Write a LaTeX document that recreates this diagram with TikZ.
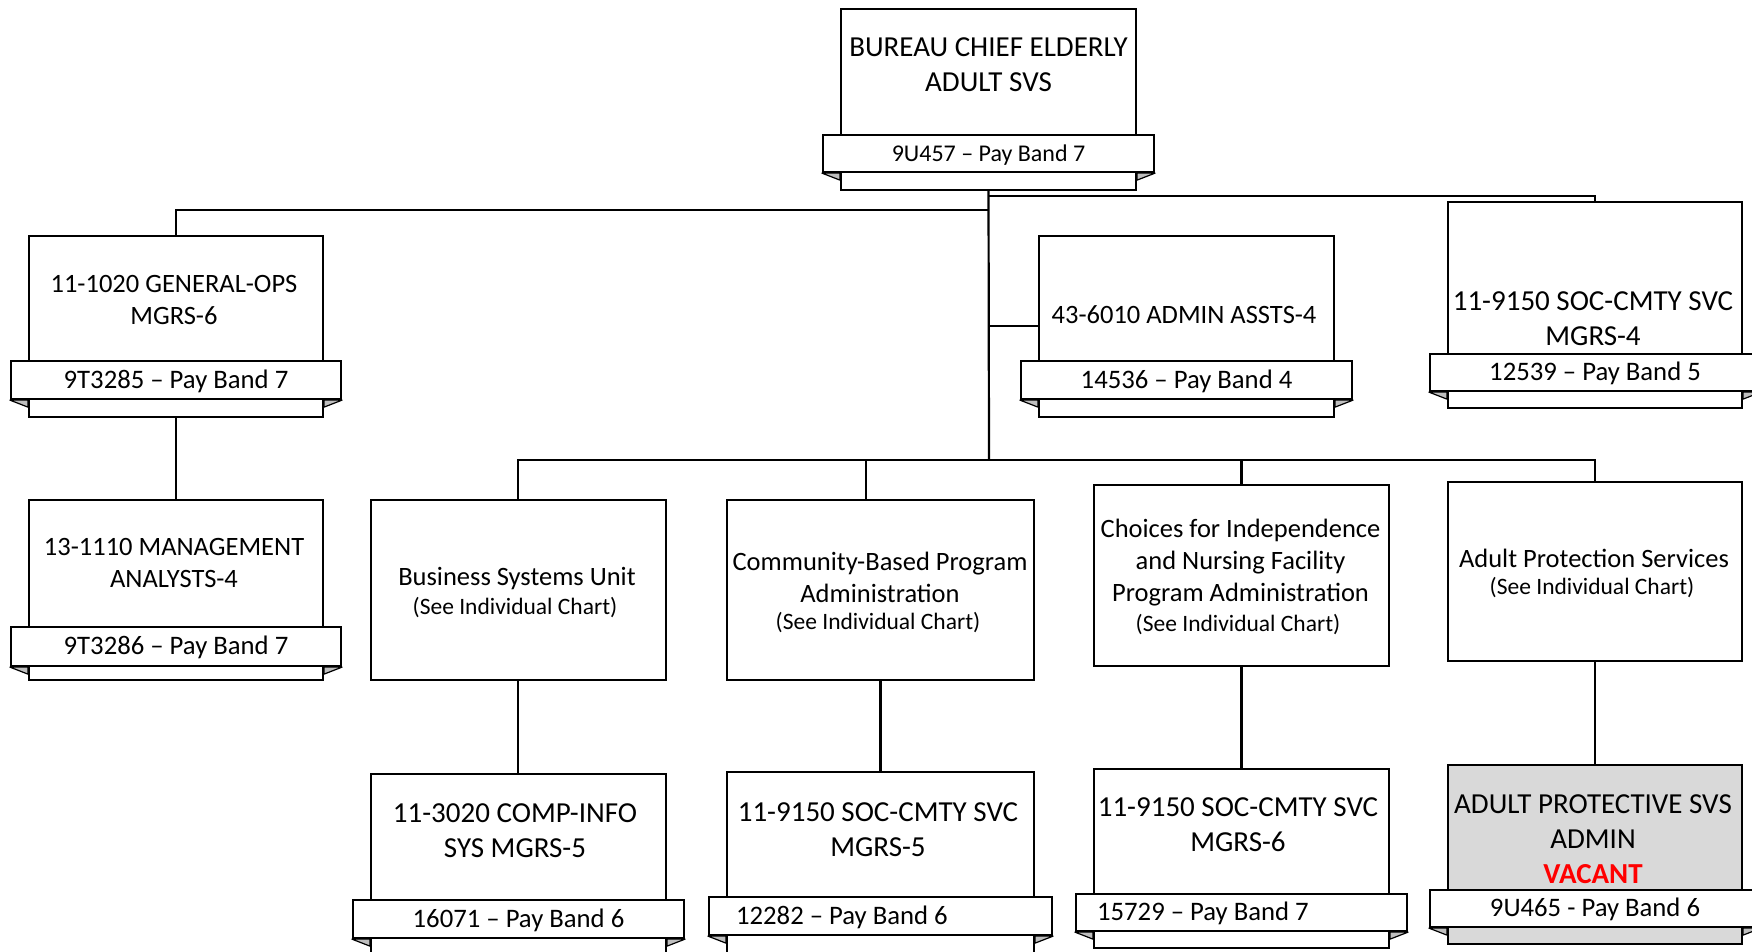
\documentclass[tikz,border=0pt]{standalone}
\usepackage{fontspec}
\setmainfont{Carlito}
\usetikzlibrary{fit}
\definecolor{apsgray}{HTML}{D9D9D9}
\definecolor{foldgray}{HTML}{BFBFBF}
\definecolor{vacred}{HTML}{FF0000}
\newcommand{\fzA}{\fontsize{29}{35}\selectfont}
\newcommand{\fzB}{\fontsize{26.5}{32}\selectfont}
\newcommand{\fzS}{\fontsize{23.5}{29}\selectfont}
\newcommand{\fzR}{\fontsize{24}{29}\selectfont}
\newcommand{\fzQ}{\fontsize{26.7}{32}\selectfont}
% #1 name, #2 x1, #3 y1, #4 x2, #5 y2, #6 banner top, #7 banner bottom, #8 fill
\newcommand{\orgunit}[8]{%
  \node[unitbox, fill=#8, fit={(#2,#3) (#4,#5)}] (#1) {};
  \node[ribbon, fit={(#2-18,#6) (#4+18,#7)}] (#1b) {};
  \filldraw[fold] (#1b.south west) -- (#1.west |- #1b.south) -- ++(0,7) -- cycle;
  \filldraw[fold] (#1b.south east) -- (#1.east |- #1b.south) -- ++(0,7) -- cycle;
}
\begin{document}
\begin{tikzpicture}[x=1pt,y=-1pt,
  unitbox/.style={draw=black, line width=2.2pt, inner sep=0pt},
  ribbon/.style={draw=black, line width=2.2pt, fill=white, inner sep=0pt},
  fold/.style={draw=black, line width=1.2pt, fill=foldgray, line join=round},
  conn/.style={draw=black, line width=2.2pt},
  txt/.style={align=center, inner sep=0pt, text=black},
  bantxt/.style={inner sep=0pt, text=black, font=\fzQ, text height=22pt, text depth=6pt},
  bantxtsmall/.style={inner sep=0pt, text=black, font=\fzR, text height=20pt, text depth=5pt},
]
\useasboundingbox (0,0) rectangle (1752,951);
\clip (0,0) rectangle (1752,951);
\fill[white] (0,0) rectangle (1752,951);

% junction coordinates on the trunk
\coordinate (hubB) at (989,196);
\coordinate (hubA) at (989,210);
\coordinate (hubC) at (989,326);
\coordinate (bus) at (989,460);

% connectors
\draw[conn] (hubA) -| (176,236);
\draw[conn] (hubB) -| (1595,202);
\draw[conn] (hubC) -- (1039,326);
\draw[conn] (988.5,190) -- (bus);
\draw[conn] (518,500) |- (bus) -| (1595,482);
\draw[conn] (866,500) -- (866,460);
\draw[conn] (1241.5,485) -- (1241.5,460);
\draw[conn] (176,417) -- (176,500);
\draw[conn] (518,680) -- (518,774);
\draw[conn] (880.5,680) -- (880.5,772);
\draw[conn] (1241.5,666) -- (1241.5,769);
\draw[conn] (1595,661) -- (1595,765);

% positions with pay-band ribbons
\orgunit{chief}{841}{9}{1136}{190}{135}{172}{white}
\orgunit{gen}{29}{236}{323}{417}{361}{399}{white}
\orgunit{mgmt}{29}{500}{323}{680}{627}{666}{white}
\orgunit{adm}{1039}{236}{1334}{417}{361}{399}{white}
\orgunit{socA}{1448}{202}{1742}{408}{354}{391}{white}
\orgunit{cis}{371}{774}{666}{975}{900}{938}{white}
\orgunit{socB}{727}{772}{1034}{975}{897}{935}{white}
\orgunit{socC}{1094}{769}{1389}{948}{894}{931}{white}
\orgunit{apsa}{1448}{765}{1742}{944}{890}{927}{apsgray}

% units
\node[unitbox, fill=white, fit={(371,500) (666,680)}] (bsu) {};
\node[unitbox, fill=white, fit={(727,500) (1034,680)}] (cbp) {};
\node[unitbox, fill=white, fit={(1094,485) (1389,666)}] (chc) {};
\node[unitbox, fill=white, fit={(1448,482) (1742,661)}] (aps) {};

% texts
\node[txt, font=\fzA] (chief-t) at (988.5,65) {BUREAU CHIEF ELDERLY\\ADULT SVS};
\node[bantxtsmall] at (chiefb.center) {9U457 – Pay Band 7};

\node[txt, font=\fzB] (gen-t) at (174,300) {11-1020 GENERAL-OPS\\MGRS-6};
\node[bantxt] at (genb.center) {9T3285 – Pay Band 7};

\node[txt, font=\fzB] (mgmt-t) at (174,563) {13-1110 MANAGEMENT\\ANALYSTS-4};
\node[bantxt] at (mgmtb.center) {9T3286 – Pay Band 7};

\node[txt, font=\fzB] (adm-t) at (1184,315) {43-6010 ADMIN ASSTS-4};
\node[bantxt] at (admb.center) {14536 – Pay Band 4};

\node[txt, font=\fzA] (socA-t) at (1593,319) {11-9150 SOC-CMTY SVC\\MGRS-4};
\node[bantxt] at (socAb.center) {12539 – Pay Band 5};

\node[txt, font=\fzB] (bsu-t) at (517,579) {Business Systems Unit};
\node[txt, font=\fzS] (bsu-s) at (515,608) {(See Individual Chart)};

\node[txt, font=\fzB] (cbp-t) at (880,577) {Community-Based Program\\Administration};
\node[txt, font=\fzS] (cbp-s) at (878,623) {(See Individual Chart)};

\node[txt, font=\fzB] (chc-t) at (1240.5,563) {Choices for Independence\\and Nursing Facility\\Program Administration};
\node[txt, font=\fzS] (chc-s) at (1238,625) {(See Individual Chart)};

\node[txt, font=\fzB] (aps-t) at (1594,558) {Adult Protection Services};
\node[txt, font=\fzS] (aps-s) at (1592,588) {(See Individual Chart)};

\node[txt, font=\fzA] (cis-t) at (515,831) {11-3020 COMP-INFO\\SYS MGRS-5};
\node[bantxt] at (cisb.center) {16071 – Pay Band 6};

\node[txt, font=\fzA] (socB-t) at (878,830) {11-9150 SOC-CMTY SVC\\MGRS-5};
\node[bantxt, anchor=west] at ([xshift=28pt]socBb.west) {12282 – Pay Band 6};

\node[txt, font=\fzA] (socC-t) at (1238,825) {11-9150 SOC-CMTY SVC\\MGRS-6};
\node[bantxt, anchor=west] at ([xshift=22pt]socCb.west) {15729 – Pay Band 7};

\node[txt, font=\fzA] (apsa-t) at (1593,839) {ADULT PROTECTIVE SVS\\ADMIN\\{\bfseries\color{vacred}VACANT}};
\node[bantxt] at (apsab.center) {9U465 - Pay Band 6};
\end{tikzpicture}
\end{document}
